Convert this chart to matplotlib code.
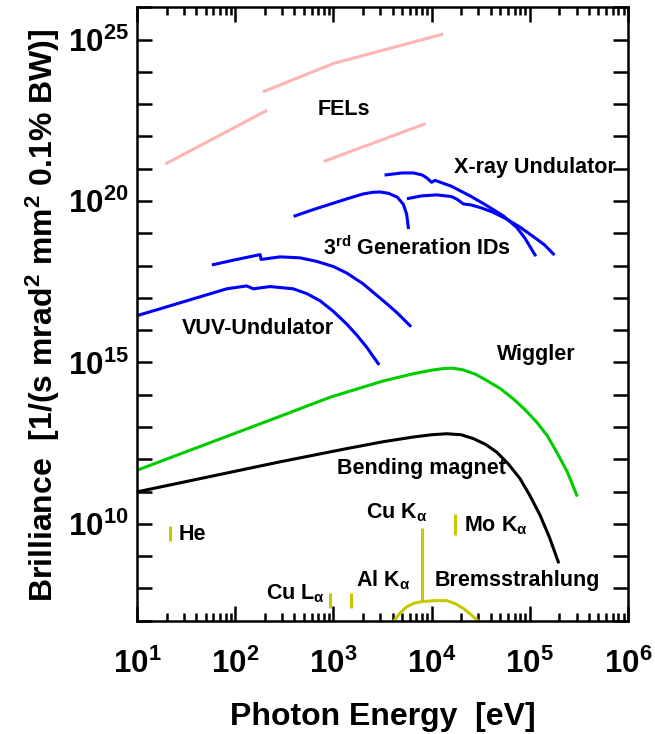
import numpy as np
import matplotlib.pyplot as plt
from matplotlib.ticker import LogLocator, FuncFormatter, NullLocator

plt.rcParams['font.family'] = 'Liberation Sans'
plt.rcParams['font.weight'] = 'bold'
plt.rcParams['mathtext.fontset'] = 'custom'
plt.rcParams['mathtext.rm'] = 'Liberation Sans:bold'
plt.rcParams['mathtext.it'] = 'Liberation Sans:bold'
plt.rcParams['mathtext.bf'] = 'Liberation Sans:bold'

# all curves given as log10(photon energy / eV) and log10(brilliance)
fel1_e = [1.302, 2.311]
fel1_b = [21.17, 22.79]
fel2_e = [2.296, 2.999, 4.103]
fel2_b = [23.40, 24.26, 25.16]
fel3_e = [2.914, 3.923]
fel3_b = [21.24, 22.38]

xu1_e = [3.536, 3.70, 3.814, 3.90, 3.95, 4.00, 4.035, 4.20, 4.391, 4.55, 4.730, 4.867, 4.95, 5.053]
xu1_b = [20.81, 20.87, 20.87, 20.81, 20.72, 20.58, 20.64, 20.46, 20.16, 19.88, 19.54, 19.18, 18.85, 18.33]
xu2_e = [3.763, 3.90, 4.05, 4.20, 4.256, 4.323, 4.40, 4.493, 4.62, 4.765, 4.90, 5.035, 5.15, 5.24]
xu2_b = [20.08, 20.16, 20.19, 20.14, 20.06, 19.91, 19.88, 19.80, 19.66, 19.44, 19.19, 18.90, 18.64, 18.36]

id1_e = [2.609, 2.80, 2.965, 3.15, 3.304, 3.40, 3.475, 3.56, 3.65, 3.712, 3.745, 3.763]
id1_b = [19.54, 19.74, 19.90, 20.08, 20.22, 20.27, 20.28, 20.24, 20.12, 19.90, 19.60, 19.18]
id2_e = [1.777, 2.00, 2.253, 2.263, 2.456, 2.66, 2.83, 3.00, 3.135, 3.30, 3.441, 3.55, 3.644, 3.78]
id2_b = [18.03, 18.18, 18.34, 18.19, 18.27, 18.24, 18.13, 17.97, 17.77, 17.44, 17.08, 16.80, 16.55, 16.14]

vuv_e = [1.0, 1.234, 1.573, 1.913, 2.117, 2.184, 2.354, 2.592, 2.73, 2.864, 3.00, 3.135, 3.24, 3.339, 3.457]
vuv_b = [16.45, 16.66, 16.97, 17.28, 17.37, 17.28, 17.35, 17.28, 17.13, 16.91, 16.58, 16.19, 15.84, 15.47, 14.96]

wig_e = [1.0, 2.456, 2.965, 3.135, 3.50, 3.814, 4.00, 4.12, 4.22, 4.32, 4.45, 4.561, 4.70, 4.832, 4.95, 5.070, 5.18, 5.274, 5.38, 5.478]
wig_b = [11.66, 13.33, 13.92, 14.08, 14.42, 14.65, 14.76, 14.81, 14.82, 14.77, 14.63, 14.44, 14.19, 13.87, 13.54, 13.15, 12.72, 12.22, 11.62, 10.89]

bm_e = [1.0, 2.456, 3.135, 3.50, 3.814, 4.00, 4.154, 4.30, 4.425, 4.55, 4.663, 4.78, 4.90, 5.00, 5.104, 5.20, 5.29]
bm_b = [10.99, 11.92, 12.33, 12.54, 12.69, 12.76, 12.79, 12.76, 12.64, 12.46, 12.22, 11.86, 11.40, 10.88, 10.27, 9.58, 8.82]

brems_e = [3.61, 3.68, 3.746, 3.82, 3.90, 4.03, 4.154, 4.24, 4.323, 4.40, 4.476]
brems_b = [6.97, 7.24, 7.43, 7.54, 7.59, 7.62, 7.62, 7.53, 7.38, 7.19, 6.99]

# characteristic lines: He, Cu L-alpha, Al K-alpha, Cu K-alpha, Mo K-alpha
line_e = [1.336, 2.965, 3.176, 3.90, 4.24]
line_lo = [9.46, 7.38, 7.38, 7.59, 9.65]
line_hi = [9.94, 7.85, 7.85, 9.86, 10.29]

labels = ['FELs', 'X-ray Undulator', '3$^{rd}$ Generation IDs', 'VUV-Undulator',
          'Wiggler', 'Bending magnet', 'Cu K$_{\\alpha}$', 'Mo K$_{\\alpha}$',
          'Bremsstrahlung', 'Al K$_{\\alpha}$', 'Cu L$_{\\alpha}$', 'He']
label_e = [2.836, 4.228, 2.897, 1.455, 4.663, 3.04, 3.332, 4.333, 4.035, 3.23, 2.314, 1.42]
label_b = [22.65, 20.86, 18.33, 15.88, 15.08, 11.53, 10.18, 9.78, 8.07, 8.05, 7.66, 9.49]

pink = '#ffb4b4'
blue = '#0000ff'
green = '#00cc00'
yellow = '#c8c800'


def p(v):
    return 10 ** np.asarray(v)


fig = plt.figure(figsize=(6.55, 7.34), dpi=100)
ax = fig.add_axes([0.2092, 0.1544, 0.7496, 0.8356])
lw = 2.2

for e, b in [(fel1_e, fel1_b), (fel2_e, fel2_b), (fel3_e, fel3_b)]:
    ax.plot(p(e), p(b), color=pink, lw=lw)
for e, b in [(xu1_e, xu1_b), (xu2_e, xu2_b), (id1_e, id1_b), (id2_e, id2_b), (vuv_e, vuv_b)]:
    ax.plot(p(e), p(b), color=blue, lw=lw)
ax.plot(p(wig_e), p(wig_b), color=green, lw=lw)
ax.plot(p(bm_e), p(bm_b), color='black', lw=lw)
ax.plot(p(brems_e), p(brems_b), color=yellow, lw=lw)
ax.vlines(p(line_e), p(line_lo), p(line_hi), color=yellow, lw=lw)

for t, e, b in zip(labels, label_e, label_b):
    ax.text(10 ** e, 10 ** b, t, fontsize=15.5, fontweight='bold', ha='left', va='baseline')

ax.set_xscale('log')
ax.set_yscale('log')
ax.set_xlim(1e1, 1e6)
ax.set_ylim(1e7, 1e26)

ax.xaxis.set_major_locator(LogLocator(base=10, numticks=20))
ax.xaxis.set_minor_locator(LogLocator(base=10, subs=np.arange(2, 10), numticks=20))
ax.xaxis.set_major_formatter(FuncFormatter(lambda v, pos: '$10^{%d}$' % round(np.log10(v))))
ax.yaxis.set_major_locator(LogLocator(base=10, numticks=40))
ax.yaxis.set_minor_locator(NullLocator())


def yfmt(v, pos):
    k = round(np.log10(v))
    return '$10^{%d}$' % k if k % 5 == 0 else ''


ax.yaxis.set_major_formatter(FuncFormatter(yfmt))

ax.tick_params(which='both', direction='in', top=True, right=True, width=1.8, labelsize=22.5)
ax.tick_params(axis='x', which='major', length=11, pad=20)
ax.tick_params(axis='x', which='minor', length=6)
ax.tick_params(axis='y', which='major', length=11, pad=6)
for s in ax.spines.values():
    s.set_linewidth(1.8)

ax.set_xlabel('Photon Energy  [eV]', fontsize=23, fontweight='bold')
ax.set_ylabel('Brilliance  [1/(s mrad$^2$ mm$^2$ 0.1% BW)]', fontsize=23, fontweight='bold')
ax.xaxis.set_label_coords(0.5, -0.133)
ax.yaxis.set_label_coords(-0.153, 0.498)

fig.savefig('out.png', dpi=100)
